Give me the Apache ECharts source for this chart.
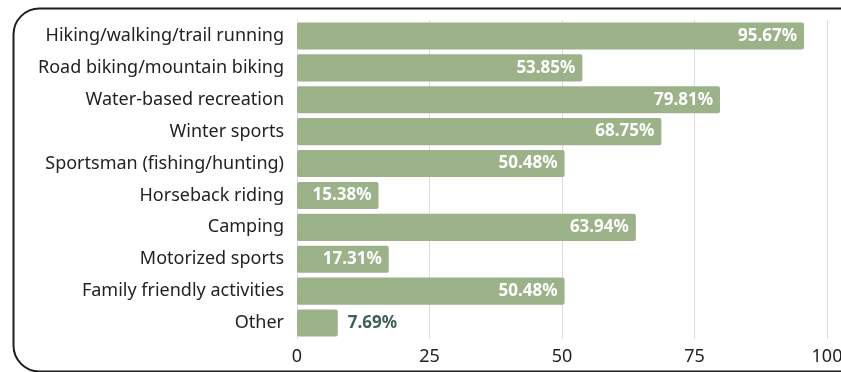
<!DOCTYPE html>
<html>
<head>
<meta charset="utf-8">
<script src="https://cdn.jsdelivr.net/npm/echarts@6/dist/echarts.min.js"></script>
<style>html,body{margin:0;padding:0;background:#fff;}#c{width:841px;height:372px;}</style>
</head>
<body>
<div id="c"></div>
<script>
var categories = ["Hiking/walking/trail running","Road biking/mountain biking","Water-based recreation","Winter sports","Sportsman (fishing/hunting)","Horseback riding","Camping","Motorized sports","Family friendly activities","Other"];
var values = [95.67, 53.85, 79.81, 68.75, 50.48, 15.38, 63.94, 17.31, 50.48, 7.69];
var xTicks = [0, 25, 50, 75, 100];

var chart = echarts.init(document.getElementById('c'));
var font = '"Noto Sans", sans-serif';
var data = values.map(function (v) {
  var item = { value: v };
  if (v < 10) {
    item.label = { position: 'right', color: '#3f5f5a', distance: 10 };
  }
  return item;
});
chart.setOption({
  animation: false,
  graphic: [{
    type: 'rect', left: 11, top: 6,
    shape: { width: 900, height: 363, r: 26 },
    style: { fill: 'none', stroke: '#1e1e1e', lineWidth: 2 },
    z: 100
  }],
  grid: { left: 297, right: 14, top: 20, bottom: 33, containLabel: false, outerBoundsMode: 'none' },
  xAxis: {
    type: 'value', min: xTicks[0], max: xTicks[xTicks.length - 1], interval: 25,
    axisLine: { show: false }, axisTick: { show: false },
    splitLine: { show: true, lineStyle: { color: '#dcdcdc', width: 1 } },
    axisLabel: { color: '#222', fontSize: 18, fontFamily: font, margin: 9 }
  },
  yAxis: {
    type: 'category', data: categories, inverse: true,
    axisLine: { show: false }, axisTick: { show: false },
    axisLabel: { color: '#222', fontSize: 18, fontFamily: font, margin: 13 }
  },
  series: [{
    type: 'bar', data: data, barWidth: '85%',
    itemStyle: { color: '#9cb38a', borderRadius: 2 },
    label: {
      show: true, position: 'insideRight', distance: 7,
      color: '#ffffff', fontWeight: 'bold', fontSize: 17, fontFamily: font,
      formatter: function (p) { return p.value.toFixed(2) + '%'; }
    }
  }]
});
</script>
</body>
</html>
